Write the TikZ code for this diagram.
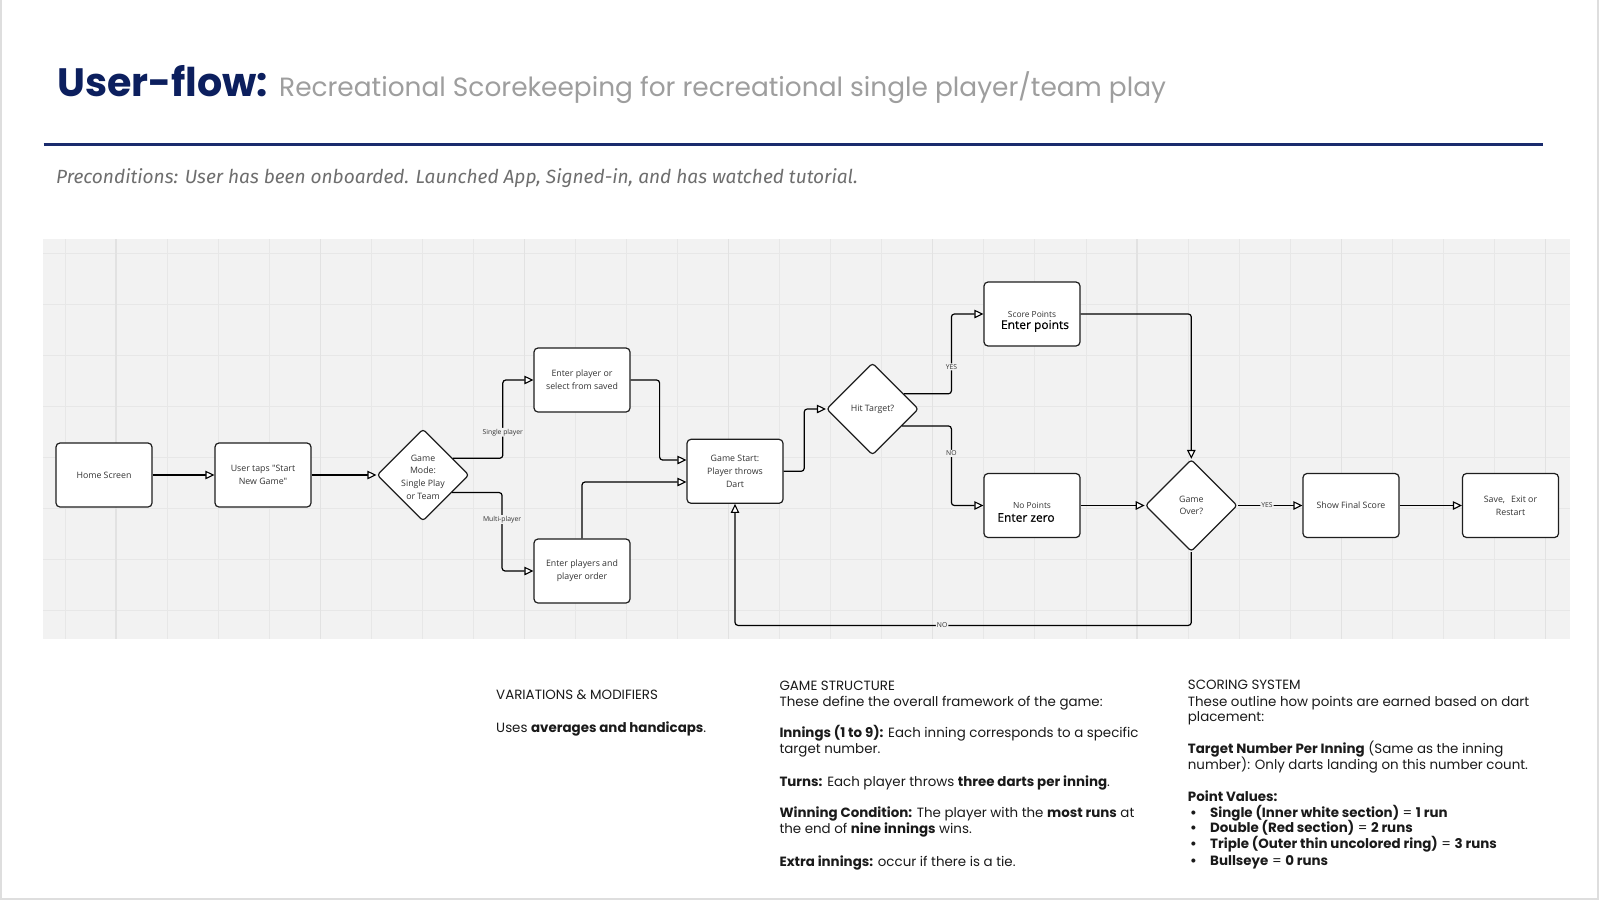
\documentclass[tikz,border=0pt]{standalone}
\usepackage{fontspec}
\setmainfont{Poppins}
\newfontfamily\ofont{Open Sans}
\newfontfamily\efont[FakeBold=0.5]{Open Sans}
\newfontfamily\pfont{Fira Sans}
\usetikzlibrary{arrows.meta,shapes.geometric,calc}
\definecolor{navy}{HTML}{0C1F5E}
\definecolor{navyline}{HTML}{1A2B6D}
\definecolor{subgray}{HTML}{9E9E9E}
\definecolor{precgray}{HTML}{6E6E6E}
\definecolor{gridbg}{HTML}{F2F2F2}
\definecolor{gridln}{HTML}{E7E7E7}
\definecolor{gridmaj}{HTML}{E2E2E2}
\definecolor{pageframe}{HTML}{DEDEDE}
\definecolor{boxline}{HTML}{1E1E1E}
\definecolor{boxtext}{HTML}{333333}
\definecolor{bottomtext}{HTML}{1A1A1A}
\begin{document}
\begin{tikzpicture}[x=1pt,y=-1pt,
  box/.style={draw=boxline, line width=1.2pt, rounded corners=4pt, fill=white,
    minimum width=96pt, minimum height=64pt, inner sep=0pt, align=center,
    font=\ofont\fontsize{8.8}{12.7}\selectfont, text=boxtext},
  dec/.style={diamond, aspect=1, draw=boxline, line width=1.2pt, rounded corners=3pt,
    fill=white, minimum width=92pt, minimum height=92pt, inner sep=0pt},
  dtext/.style={align=center, font=\ofont\fontsize{8.8}{12.7}\selectfont, text=boxtext, inner sep=0pt},
  conn/.style={draw=black, line width=1.2pt, rounded corners=3pt,
    -{Triangle[length=9pt,width=8.5pt,fill=white,line width=1.1pt]}},
  lab/.style={font=\ofont\fontsize{6.8}{8}\selectfont, fill=gridbg, inner sep=1pt, text=boxtext},
  small/.style={font=\ofont\fontsize{8.4}{10}\selectfont, text=boxtext, inner sep=0pt},
  big/.style={font=\efont\fontsize{12}{14}\selectfont, text=black, inner sep=0pt},
  btxt/.style={anchor=base west, inner sep=0pt, font=\fontsize{13.4}{15}\selectfont, text=bottomtext},
  gline/.style={draw=gridln, line width=1pt},
  gmaj/.style={draw=gridmaj, line width=1.2pt}
]
\useasboundingbox (0,0) rectangle (1600,900);
\fill[white] (0,0) rectangle (1600,900);
% page frame
\draw[pageframe, line width=2pt] (1,0) -- (1,898.5) -- (1597.5,898.5) -- (1597.5,0);

% title
\node[anchor=base west, inner sep=0pt, font=\fontsize{39.6}{40}\selectfont\bfseries, text=navy] (title) at (57,96.7) {User-flow:};
\node[anchor=base west, inner sep=0pt, font=\fontsize{26.4}{27}\selectfont, text=subgray] (subtitle) at (279,96.7) {Recreational Scorekeeping for recreational single player/team play};
\draw[navyline, line width=3pt] (43.7,144) -- (1542.7,144);
\node[anchor=base west, inner sep=0pt, font=\pfont\itshape\fontsize{19.1}{21}\selectfont, text=precgray] (precond) at (56,183.3) {Preconditions: User has been onboarded. Launched App, Signed-in, and has watched tutorial.};

% canvas grid
\fill[gridbg] (43,239) rectangle (1570,639);
\foreach \k in {0,...,7} \draw[gline] (43,{253+51.05*\k}) -- (1570,{253+51.05*\k});
\foreach \k in {0,...,29} \draw[gline] ({65+51.05*\k},239) -- ({65+51.05*\k},639);
\foreach \k in {1,5,...,29} \draw[gmaj] ({65+51.05*\k},239) -- ({65+51.05*\k},639);

% nodes
\node[box] (home) at (104,475) {Home Screen};
\node[box] (taps) at (263,475) {User taps "Start\\New Game"};
\node[dec, label={[dtext, yshift=-2pt]center:Game\\Mode:\\Single Play\\or Team}] (gm) at (423,475) {};
\node[box] (eps) at (582,380) {Enter player or\\select from saved};
\node[box] (epo) at (582,571) {Enter players and\\player order};
\node[box] (gs) at (735,471.3) {Game Start:\\Player throws\\Dart};
\node[dec, label={[dtext]center:Hit Target?}] (hit) at (872.5,409) {};
\node[box, label={[small]center:Score Points}, label={[big, xshift=3pt, yshift=-12pt]center:Enter points}] (sp) at (1032,314) {};
\node[box, label={[small]center:No Points}, label={[big, xshift=-6pt, yshift=-12pt]center:Enter zero}] (np) at (1032,505.5) {};
\node[dec, label={[dtext]center:Game\\Over?}] (go) at (1191.3,505.5) {};
\node[box] (sfs) at (1351,505.5) {Show Final Score};
\node[box] (ser) at (1510.5,505.5) {Save,\hspace{6pt}Exit or\\Restart};

% connectors
\draw[conn] (home.east) -- (taps.west);
\draw[conn] (taps.east) -- (gm.west);
\draw[conn] ($(gm.east)!0.36!(gm.north)$) -- ++(50,0) |- node[lab, pos=0.166] {Single player} (eps.west);
\draw[conn] ($(gm.east)!0.376!(gm.south)$) -- ++(50,0) |- node[lab, pos=0.172] {Multi-player} (epo.west);
\draw[conn] (eps.east) -- ++(29,0) |- ($(gs.west)+(0,-11.3)$);
\draw[conn] (epo.north) |- ($(gs.west)+(0,10.7)$);
\draw[conn] (gs.east) -- ++(20.6,0) |- (hit.west);
\draw[conn] ($(hit.east)!0.326!(hit.north)$) -| node[lab, pos=0.669] {YES} ($(sp.west)+(-32,0)$) -- (sp.west);
\draw[conn] ($(hit.east)!0.363!(hit.south)$) -| node[lab, pos=0.672] {NO} ($(np.west)+(-32,0)$) -- (np.west);
\draw[conn] (sp.east) -| (go.north);
\draw[conn] (np.east) -- (go.west);
\draw[conn] (go.east) -- node[lab, pos=0.45] {YES} (sfs.west);
\draw[conn] (sfs.east) -- (ser.west);
\draw[conn] (go.south) -- ++(0,73.3) -| node[lab, pos=0.273] {NO} (gs.south);

% bottom text: variations
\node[btxt] (var1) at (496,699.5) {VARIATIONS \& MODIFIERS};
\node[btxt] (var2) at (496,732) {Uses \textbf{averages and handicaps}.};
% game structure
\node[btxt] (gs1) at (779.3,690) {GAME STRUCTURE};
\node[btxt] (gs2) at (779.3,706.7) {These define the overall framework of the game:};
\node[btxt] (gs3) at (779.3,737.7) {\textbf{Innings (1 to 9):} Each inning corresponds to a specific};
\node[btxt] (gs4) at (779.3,753.3) {target number.};
\node[btxt] (gs5) at (779.3,786.7) {\textbf{Turns:} Each player throws \textbf{three darts per inning}.};
\node[btxt] (gs6) at (779.3,817.3) {\textbf{Winning Condition:} The player with the \textbf{most runs} at};
\node[btxt] (gs7) at (779.3,833.3) {the end of \textbf{nine innings} wins.};
\node[btxt] (gs8) at (779.3,866.7) {\textbf{Extra innings:} occur if there is a tie.};
% scoring system
\node[btxt] (sc1) at (1187.7,689.3) {SCORING SYSTEM};
\node[btxt] (sc2) at (1187.7,706.7) {These outline how points are earned based on dart};
\node[btxt] (sc3) at (1187.7,721.7) {placement:};
\node[btxt] (sc4) at (1187.7,753.3) {\textbf{Target Number Per Inning} (Same as the inning};
\node[btxt] (sc5) at (1187.7,769) {number): Only darts landing on this number count.};
\node[btxt] (sc6) at (1187.7,801) {\textbf{Point Values:}};
\foreach \yy/\nm in {817.3/b1,832.7/b2,848.3/b3,865.7/b4} \node[btxt] (\nm) at (1190,\yy) {\textbf{•}};
\node[btxt] (sc7) at (1210,817.3) {\textbf{Single (Inner white section)} = \textbf{1 run}};
\node[btxt] (sc8) at (1210,832.7) {\textbf{Double (Red section)} = \textbf{2 runs}};
\node[btxt] (sc9) at (1210,848.3) {\textbf{Triple (Outer thin uncolored ring)} = \textbf{3 runs}};
\node[btxt] (sc10) at (1210,865.7) {\textbf{Bullseye} = \textbf{0 runs}};
\end{tikzpicture}
\end{document}
